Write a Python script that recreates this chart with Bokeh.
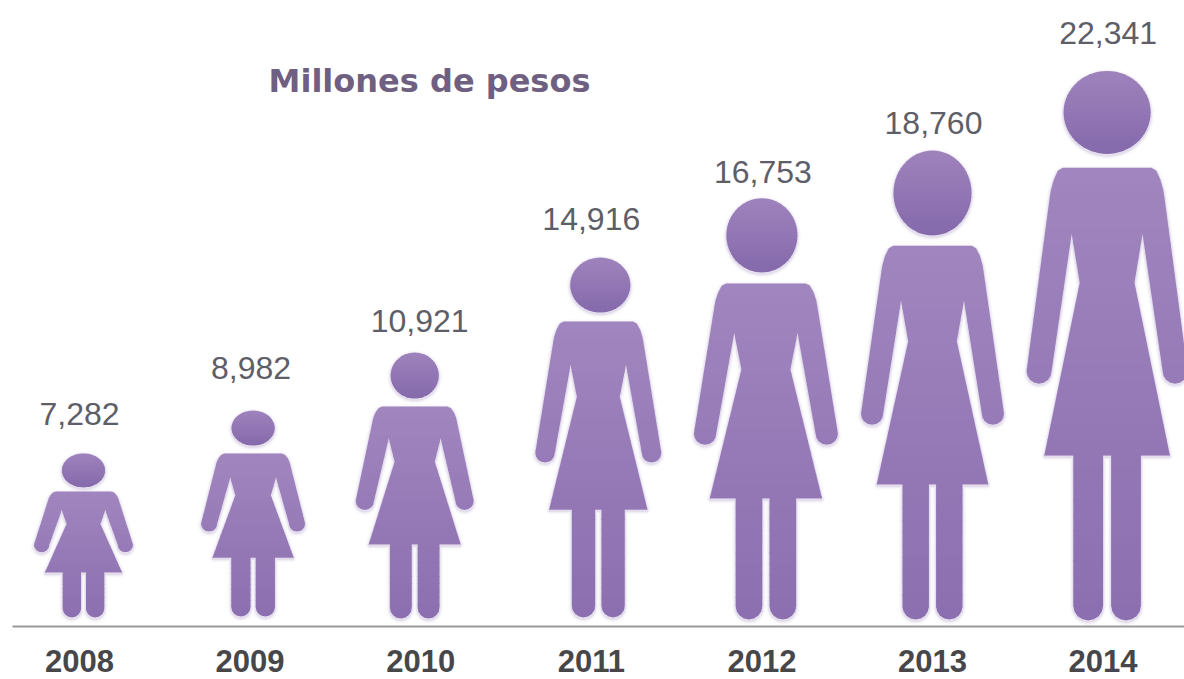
import math
from bokeh.plotting import figure
from bokeh.models import Range1d, FixedTicker, ColumnDataSource
from bokeh.core.properties import value
from bokeh.embed import file_html
from bokeh.resources import INLINE

# ---- chart data ----
years = [2008, 2009, 2010, 2011, 2012, 2013, 2014]
pesos = [7282, 8982, 10921, 14916, 16753, 18760, 22341]
value_labels = ["7,282", "8,982", "10,921", "14,916", "16,753", "18,760", "22,341"]
chart_title = "Millones de pesos"

# ---- layout of the pictogram (kept apart from the data) ----
PX_PER_YEAR = 170.6
PX_PER_PESO = 0.0246
W, H = 1184, 679
FRAME_L, FRAME_B = 12, 53
frame_w, frame_h = W - FRAME_L, H - FRAME_B
tick0_px = 67.0                      # first tick from frame left

fill_ratio = [0.916, 0.932, 0.990, 0.981, 1.022, 1.016, 1.000]
span_px = [99, 104, 118, 126, 144, 143, 161]
head_w_px = [43, 43, 48, 60, 71, 78, 87]
head_frac = [0.207, 0.170, 0.173, 0.153, 0.176, 0.181, 0.151]
body_frac = [0.232, 0.209, 0.203, 0.178, 0.202, 0.203, 0.176]
skirt_frac = [0.726, 0.714, 0.722, 0.700, 0.713, 0.712, 0.700]
shift_px = [4, 3, -6, 7, 4, 0, 4]
head_shift_px = [0, 0, 0, 2, -4, 0, 0]
foot_gap_px = [9, 10, 8, 9, 7, 7, 6]
label_gap_px = [39, 43, 32, 39, 26, 28, 38]
label_shift_px = [0, 1, -1, 0, 1, 1, 5]

BODY_TOP, BODY_BOT = (161, 133, 190), (139, 111, 176)
HEAD_TOP, HEAD_BOT = (158, 130, 188), (133, 106, 172)
N_BANDS = 30


def mix(a, b, t):
    return "#%02x%02x%02x" % tuple(round(a[k] + (b[k] - a[k]) * t) for k in range(3))


def silhouette(half, top, skirt, foot):
    """Outline of the body as (x px from centre, y px downward)."""
    R = skirt - top
    left = [(-0.55, top), (-0.61, top + 0.01 * R), (-0.66, top + 0.04 * R),
            (-0.70, top + 0.08 * R), (-0.73, top + 0.14 * R)]
    pts = [(u * half, y) for u, y in left]
    r = 0.155 * half
    yc = top + 0.75 * R - r
    for k in range(9):
        th = math.pi * (1 - k / 8)
        pts.append((-0.845 * half + r * math.cos(th), yc + r * math.sin(th)))
    pts += [(-0.44 * half, top + 0.23 * R), (-0.34 * half, top + 0.40 * R),
            (-0.78 * half, skirt), (-0.42 * half, skirt)]
    r = 0.185 * half
    yc = foot - r
    for k in range(9):
        th = math.pi * (1 - k / 8)
        pts.append((-0.235 * half + r * math.cos(th), yc + r * math.sin(th)))
    pts += [(-0.05 * half, skirt), (0.05 * half, skirt)]
    right = [(-x, y) for x, y in reversed(pts[:-2])]
    return pts + right


def clip(poly, y0, y1):
    """Sutherland-Hodgman clip of a polygon to the band y0..y1."""
    def cut(points, inside, bound):
        out = []
        for i, p in enumerate(points):
            q = points[(i + 1) % len(points)]
            a, b = inside(p), inside(q)
            if a:
                out.append(p)
            if a != b:
                t = (bound - p[1]) / (q[1] - p[1])
                out.append((p[0] + (q[0] - p[0]) * t, bound))
        return out
    res = cut(poly, lambda p: p[1] >= y0, y0)
    if res:
        res = cut(res, lambda p: p[1] <= y1, y1)
    return res


x_start = years[0] - tick0_px / PX_PER_YEAR
p = figure(width=W, height=H, output_backend="svg", toolbar_location=None,
           x_range=Range1d(x_start, x_start + frame_w / PX_PER_YEAR),
           y_range=Range1d(0, frame_h / PX_PER_PESO),
           min_border_left=FRAME_L, min_border_right=0, min_border_top=0,
           min_border_bottom=FRAME_B, background_fill_color="white",
           border_fill_color="white")
p.outline_line_color = None
p.grid.visible = False
p.yaxis.visible = False

ax = p.xaxis[0]
ax.ticker = FixedTicker(ticks=years)
ax.formatter.use_scientific = False
ax.major_label_overrides = {y: str(y) for y in years}
ax.major_tick_line_color = None
ax.minor_tick_line_color = None
ax.axis_line_color = "#9a9a9a"
ax.axis_line_width = 2
ax.major_label_standoff = 17
ax.major_label_text_font = "Liberation Sans"
ax.major_label_text_font_style = "bold"
ax.major_label_text_font_size = "31px"
ax.major_label_text_color = "#47474a"

to_x = lambda yr, px: yr + px / PX_PER_YEAR
shadow_x, shadow_y = [], []
band_x, band_y, band_c = [], [], []
label_x, label_y, label_off = [], [], []

for i, yr in enumerate(years):
    hgt = pesos[i] * PX_PER_PESO * fill_ratio[i]       # height in px, from the value
    foot_y = foot_gap_px[i]                            # px above baseline
    top_abs = foot_y + hgt
    to_data = lambda pt: (to_x(yr, shift_px[i] + pt[0]), (top_abs - pt[1]) / PX_PER_PESO)

    body_top = body_frac[i] * hgt
    skirt = skirt_frac[i] * hgt
    outline = silhouette(span_px[i] / 2, body_top, skirt, hgt)

    rx, ry = head_w_px[i] / 2, head_frac[i] * hgt / 2
    head = [(head_shift_px[i] + rx * math.cos(2 * math.pi * k / 60),
             ry + ry * math.sin(2 * math.pi * k / 60)) for k in range(60)]

    for shape in (outline, head):
        d = [to_data((a, b + 1.5)) for a, b in shape]
        shadow_x.append([c[0] for c in d])
        shadow_y.append([c[1] for c in d])

    for shape, y0, y1, c0, c1, nb in ((outline, body_top, hgt, BODY_TOP, BODY_BOT, N_BANDS),
                                      (head, 0, 2 * ry, HEAD_TOP, HEAD_BOT, 24)):
        step = (y1 - y0) / nb
        for b in range(nb):
            part = clip(shape, y0 + b * step, y0 + (b + 1) * step + (0.8 if b < nb - 1 else 0))
            if len(part) < 3:
                continue
            d = [to_data(q) for q in part]
            band_x.append([c[0] for c in d])
            band_y.append([c[1] for c in d])
            band_c.append(mix(c0, c1, b / (nb - 1)))

    label_x.append(to_x(yr, label_shift_px[i]))
    label_y.append(top_abs / PX_PER_PESO)
    label_off.append(-label_gap_px[i])

# soft glow round the figures
for lw, alpha in ((7, 0.05), (4, 0.08), (2, 0.12)):
    p.patches(shadow_x, shadow_y, fill_color=None, line_color="#8a6eb0",
              line_width=lw, line_alpha=alpha)
p.patches(band_x, band_y, fill_color=band_c, line_color=None)

src = ColumnDataSource(dict(x=label_x, y=label_y, t=value_labels, off=label_off))
p.text("x", "y", text="t", source=src, y_offset="off", text_align="center",
       text_baseline="middle", text_font=value("Liberation Sans"),
       text_font_size="32px", text_color="#5e5e68")

# title
p.text([to_x(years[0], 350)], [(626 - 80) / PX_PER_PESO], text=[chart_title],
       text_align="center", text_baseline="middle", text_font=value("DejaVu Sans"),
       text_font_style="bold", text_font_size="32px", text_color="#6f6081")

open("out.html", "w").write(file_html(p, INLINE))
